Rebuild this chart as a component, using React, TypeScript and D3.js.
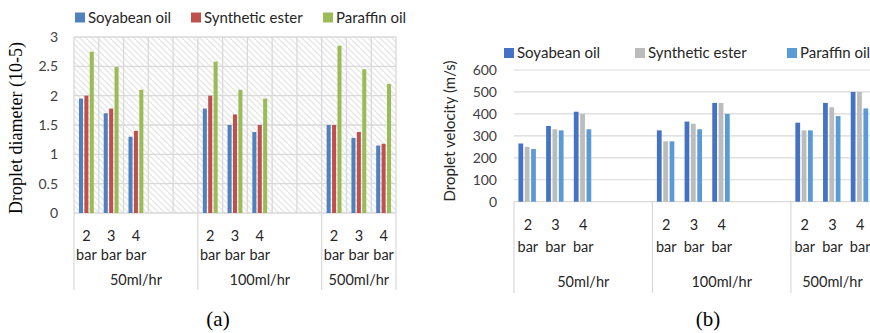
import React from 'react';
import * as d3 from 'd3';

const flowRates = ['50ml/hr', '100ml/hr', '500ml/hr'];
const pressures = ['2', '3', '4'];
const seriesNames = ['Soyabean oil', 'Synthetic ester', 'Paraffin oil'];

// droplet diameter (10-5), order: 50ml 2/3/4 bar, 100ml 2/3/4 bar, 500ml 2/3/4 bar
const diaSoy = [1.95, 1.7, 1.3, 1.78, 1.5, 1.38, 1.5, 1.28, 1.15];
const diaEster = [2.0, 1.78, 1.4, 2.0, 1.68, 1.5, 1.5, 1.38, 1.18];
const diaParaffin = [2.75, 2.49, 2.1, 2.58, 2.1, 1.95, 2.85, 2.45, 2.2];

// droplet velocity (m/s)
const velSoy = [265, 345, 410, 325, 365, 450, 360, 450, 500];
const velEster = [250, 330, 400, 275, 355, 450, 325, 430, 500];
const velParaffin = [240, 325, 330, 275, 330, 400, 325, 390, 425];

const diaTicks = [0, 0.5, 1, 1.5, 2, 2.5, 3];
const velTicks = [0, 100, 200, 300, 400, 500, 600];

const sans = 'Lato, "Open Sans", sans-serif';
const serif = '"Liberation Serif", "Times New Roman", serif';
const grid = '#d9d9d9';

// 3 pressures per flow rate, two blank slots between groups (Excel layout)
const slots: string[] = [];
flowRates.forEach((f, gi) => {
  pressures.forEach((p) => slots.push(f + '|' + p));
  if (gi < flowRates.length - 1) {
    slots.push(f + '|gap1');
    slots.push(f + '|gap2');
  }
});

type ChartProps = {
  series: number[][];
  colors: string[];
  ticks: number[];
  yMax: number;
  x0: number; x1: number; y0: number; y1: number;
  inner: [number, number];
  hatch?: boolean;
  tickX: number;
  tickFmt: (v: number) => string;
  legend: { sq: number[]; y: number };
  label1Y: number; label2Y: number; groupY: number; sepBottom: number;
  id: string;
};

function GroupedBars(p: ChartProps) {
  const x = d3.scaleBand().domain(slots).range([p.x0, p.x1]);
  const y = d3.scaleLinear().domain([0, p.yMax]).range([p.y1, p.y0]);
  const inner = d3.scaleBand().domain(seriesNames)
    .range([x.bandwidth() * p.inner[0], x.bandwidth() * p.inner[1]])
    .paddingInner(0.25);
  const keys: string[] = [];
  flowRates.forEach((f) => pressures.forEach((pr) => keys.push(f + '|' + pr)));

  const groupStart = (f: string) => x(f + '|2')!;
  const groupEnd = (f: string, i: number) =>
    i < flowRates.length - 1 ? groupStart(flowRates[i + 1]) : p.x1;

  return (
    <g>
      {p.hatch && (
        <>
          <defs>
            <pattern id={p.id + 'hatch'} width={6} height={6} patternUnits="userSpaceOnUse">
              <rect width={6} height={6} fill="#ffffff" />
              <path d="M0,0L6,6M-1,5L1,7M5,-1L7,1" stroke="#e6e6e6" strokeWidth={1.3} />
            </pattern>
          </defs>
          <rect x={p.x0} y={p.y0} width={p.x1 - p.x0} height={p.y1 - p.y0} fill={`url(#${p.id}hatch)`} />
          {slots.map((s) => (
            <line key={s} x1={x(s)!} x2={x(s)!} y1={p.y0} y2={p.y1} stroke={grid} strokeWidth={1.3} />
          ))}
          <line x1={p.x1} x2={p.x1} y1={p.y0} y2={p.y1} stroke={grid} strokeWidth={1.3} />
        </>
      )}
      {p.ticks.map((t) => (
        <g key={t}>
          <line x1={p.x0} x2={p.x1} y1={y(t)} y2={y(t)} stroke={grid} strokeWidth={p.hatch ? 1.3 : 1.2} />
          <text x={p.tickX} y={y(t)} dy="0.35em" textAnchor="end" fontFamily={sans} fontSize={14} fill="#404040">
            {p.tickFmt(t)}
          </text>
        </g>
      ))}
      {keys.map((k, ki) =>
        p.series.map((vals, si) => (
          <rect key={k + si} x={x(k)! + inner(seriesNames[si])!} width={inner.bandwidth()}
            y={y(vals[ki])} height={y(0) - y(vals[ki])} fill={p.colors[si]} />
        ))
      )}
      {/* category axis */}
      {flowRates.map((f, i) => {
        const gs = groupStart(f);
        const ge = groupEnd(f, i);
        return (
          <g key={f}>
            <line x1={gs} x2={gs} y1={p.y1} y2={p.sepBottom} stroke={grid} strokeWidth={1.2} />
            <text x={(gs + ge) / 2} y={p.groupY} dy="0.35em" textAnchor="middle" fontFamily={sans} fontSize={14.5} fill="#262626">
              {f}
            </text>
            {pressures.map((pr) => {
              const cx = x(f + '|' + pr)! + x.bandwidth() / 2;
              return (
                <g key={pr}>
                  <text x={cx} y={p.label1Y} dy="0.35em" textAnchor="middle" fontFamily={sans} fontSize={14.5} fill="#262626">{pr}</text>
                  <text x={cx} y={p.label2Y} dy="0.35em" textAnchor="middle" fontFamily={sans} fontSize={14.5} fill="#262626">bar</text>
                </g>
              );
            })}
          </g>
        );
      })}
      <line x1={p.x1} x2={p.x1} y1={p.y1} y2={p.sepBottom} stroke={grid} strokeWidth={1.2} />
      {/* legend */}
      {seriesNames.map((s, i) => (
        <g key={s}>
          <rect x={p.legend.sq[i]} y={p.legend.y - 5} width={10} height={10} fill={p.colors[i]} />
          <text x={p.legend.sq[i] + 13} y={p.legend.y} dy="0.35em" fontFamily={sans} fontSize={15} fill="#262626">{s}</text>
        </g>
      ))}
    </g>
  );
}

export default function App() {
  return (
    <svg width={870} height={333} style={{ position: 'absolute', left: 0, top: 0, background: '#fff' }}>
      <GroupedBars
        id="a"
        series={[diaSoy, diaEster, diaParaffin]}
        colors={['#4f81bd', '#c0504d', '#9bbb59']}
        ticks={diaTicks}
        yMax={3}
        x0={74} x1={396} y0={37} y1={213}
        inner={[0.2, 0.8]}
        hatch
        tickX={58}
        tickFmt={(v) => String(v)}
        legend={{ sq: [75, 191, 323], y: 17.5 }}
        label1Y={236} label2Y={255} groupY={280} sepBottom={290}
      />
      <text transform="translate(16,128) rotate(-90)" textAnchor="middle" dy="0.35em" fontFamily={serif} fontSize={18} fill="#000">
        Droplet diameter (10-5)
      </text>
      <text x={218} y={319} dy="0.35em" textAnchor="middle" fontFamily={serif} fontSize={21} fill="#000">(a)</text>

      <GroupedBars
        id="b"
        series={[velSoy, velEster, velParaffin]}
        colors={['#4472c4', '#bcbcbc', '#5b9bd5']}
        ticks={velTicks}
        yMax={600}
        x0={514} x1={874} y0={70} y1={201.7}
        inner={[0.16, 0.79]}
        tickX={497}
        tickFmt={(v) => String(v)}
        legend={{ sq: [504, 635, 787], y: 53 }}
        label1Y={225} label2Y={247} groupY={282} sepBottom={293}
      />
      <text transform="translate(450,131) rotate(-90)" textAnchor="middle" dy="0.35em" fontFamily={sans} fontSize={15} fill="#262626">
        Droplet velocity (m/s)
      </text>
      <text x={708} y={319} dy="0.35em" textAnchor="middle" fontFamily={serif} fontSize={21} fill="#000">(b)</text>
    </svg>
  );
}
